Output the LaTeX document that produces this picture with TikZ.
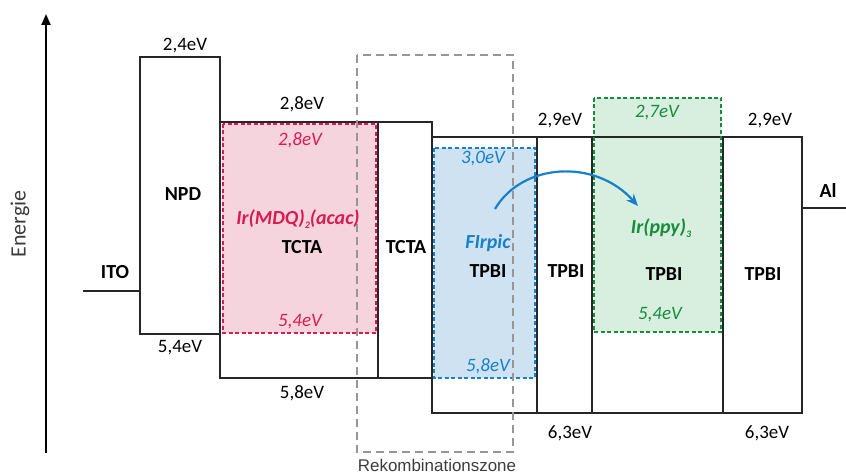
\documentclass[tikz,border=0pt]{standalone}
\usepackage{fontspec}
\setmainfont{Carlito}
\newfontfamily\arialfont{Liberation Sans}
\usetikzlibrary{arrows.meta}
\definecolor{pinkfill}{RGB}{246,212,222}
\definecolor{pinkline}{RGB}{216,28,82}
\definecolor{bluefill}{RGB}{206,226,242}
\definecolor{blueline}{RGB}{22,128,200}
\definecolor{greenfill}{RGB}{216,238,222}
\definecolor{greenline}{RGB}{22,140,62}
\definecolor{zonegray}{RGB}{150,150,150}
\definecolor{txtgray}{RGB}{60,60,60}
\newcommand{\lowsub}[1]{\raisebox{-3.5bp}{\fontsize{10}{10}\selectfont #1}}
\tikzset{
  level/.style={draw=black!85, line width=2.4bp},
  dopant/.style={line width=2.4bp, dash pattern=on 4bp off 2.5bp},
  ev/.style={font=\fontsize{19}{22}\selectfont, inner sep=0pt},
  evc/.style={font=\fontsize{19}{22}\selectfont\itshape, inner sep=0pt},
  mat/.style={font=\fontsize{20}{22}\selectfont\bfseries, inner sep=0pt},
  dop/.style={font=\fontsize{20}{22}\selectfont\bfseries\itshape, inner sep=0pt},
}
\begin{document}
\begin{tikzpicture}[x=1bp, y=-1bp]
\useasboundingbox (0,0) rectangle (846,473);
% coloured fills
\fill[pinkfill] (222,123) rectangle (377,333);
\fill[bluefill] (434,148) rectangle (535,378);
\fill[greenfill] (594,98) rectangle (721,332);
% energy levels
\draw[level] (140,57) rectangle (220,334);
\draw[level] (220,122) rectangle (378,378);
\draw[level] (378,122) rectangle (432,378);
\draw[level] (432,137) rectangle (537,413);
\draw[level] (537,137) rectangle (592,413);
\draw[level] (592,137) rectangle (723,413);
\draw[level] (723,137) rectangle (802,413);
\coordinate (itoL) at (83,291); \coordinate (itoR) at (140,291);
\coordinate (alL) at (802,208); \coordinate (alR) at (846,208);
\draw[level] (itoL) -- (itoR);
\draw[level] (alL) -- (alR);
% dopant boxes
\draw[dopant, pinkline] (223,124) rectangle (376,333);
\draw[dopant, blueline] (434,148) rectangle (535,378);
\draw[dopant, greenline] (594,98) rectangle (721,332);
% recombination zone
\draw[zonegray, line width=1.6bp, dash pattern=on 8bp off 5bp] (357,55) rectangle (513,452);
\node[font=\arialfont\fontsize{17}{19}\selectfont, text=txtgray, inner sep=0pt] (zone) at (437,465) {Rekombinationszone};
% axis
\coordinate (axB) at (46,453); \coordinate (axT) at (46,14);
\draw[line width=2.2bp, -{Triangle[length=11bp,width=9bp]}] (axB) -- (axT);
\node[font=\fontsize{22}{24}\selectfont, text=txtgray, rotate=90, inner sep=0pt] (energie) at (20,224) {Energie};
% labels
\node[mat] (ito) at (115,272) {ITO};
\node[mat] (al) at (828,191) {Al};
\node[mat] (npd) at (183,194) {NPD};
\node[ev] at (185,46) {2,4eV};
\node[ev] at (180,348) {5,4eV};
\node[ev] at (302,104) {2,8eV};
\node[ev] at (302,393) {5,8eV};
\node[evc, text=pinkline] at (300,140) {2,8eV};
\node[evc, text=pinkline] at (300,322) {5,4eV};
\node[dop, text=pinkline] (irmdq) at (298,219) {Ir(MDQ)\lowsub{2}(acac)};
\node[mat] (tcta1) at (302,247) {TCTA};
\node[mat] (tcta2) at (406,247) {TCTA};
\node[evc, text=blueline] at (483,159) {3,0eV};
\node[evc, text=blueline] at (488,366) {5,8eV};
\node[dop, text=blueline] (firpic) at (488,243) {FIrpic};
\node[mat] (tpbi1) at (488,271) {TPBI};
\node[mat] (tpbi2) at (566,271) {TPBI};
\node[ev] at (560,121) {2,9eV};
\node[ev] at (570,433) {6,3eV};
\node[evc, text=greenline] at (657,113) {2,7eV};
\node[evc, text=greenline] at (660,315) {5,4eV};
\node[dop, text=greenline] (irppy) at (661,228) {Ir(ppy)\lowsub{3}};
\node[mat] (tpbi3) at (664,274) {TPBI};
\node[mat] (tpbi4) at (763,274) {TPBI};
\node[ev] at (770,121) {2,9eV};
\node[ev] at (767,433) {6,3eV};
% energy transfer arrow
\coordinate (trA) at (495,209); \coordinate (trB) at (638,206);
\draw[blueline, line width=2.2bp, -{Stealth[length=12bp,width=10bp]}] (trA) .. controls (522,163) and (595,158) .. (trB);
\end{tikzpicture}
\end{document}
